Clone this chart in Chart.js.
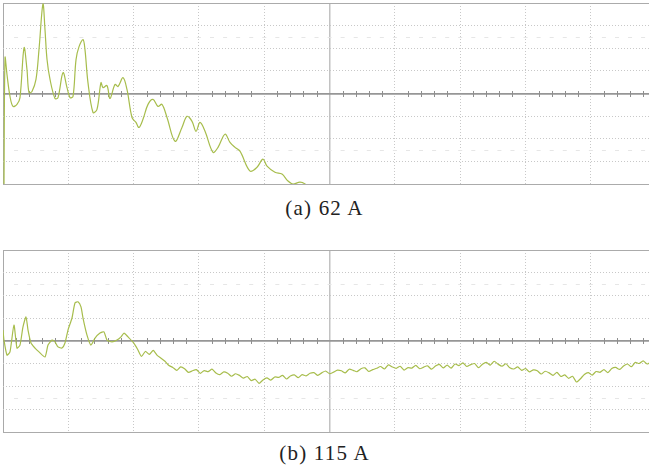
<!DOCTYPE html>
<html>
<head>
<meta charset="utf-8">
<script src="https://cdn.jsdelivr.net/npm/chart.js@4.4.0/dist/chart.umd.min.js"></script>
<style>
  body { margin: 0; background: #fff; width: 649px; height: 472px; position: relative; overflow: hidden; }
  canvas { position: absolute; left: 0; }
  .caption { position: absolute; left: 0; width: 649px; text-align: center; font-family: "Liberation Serif", serif; font-size: 21px; color: #222; letter-spacing: 1.2px; }
</style>
</head>
<body>
<canvas id="chartA" width="649" height="187" style="top:0px"></canvas>
<div class="caption" style="top:196px">(a) 62 A</div>
<canvas id="chartB" width="649" height="188" style="top:247px"></canvas>
<div class="caption" style="top:441px">(b) 115 A</div>

<script>
// graticule: 10 divisions across (the right one is cut off), 8 divisions up
const xGrid = [0, 100, 200, 300, 400, 500, 600, 700, 800, 900];
const yGrid = [-40, -30, -20, -10, 0, 10, 20, 30, 40];
const captions = ['(a) 62 A', '(b) 115 A'];

// trace (a) 62 A
const topX = [1.5, 3.1, 6.1, 10.7, 15.3, 21.4, 26, 32.2, 36.7, 39.8, 44.4, 50.5, 55.1, 61.2, 64.3,
  67.4, 72, 79.6, 84.2, 91.9, 98, 102.6, 107.2, 111.8, 116.4, 122.5, 125.5, 130.1, 137.8, 143.9,
  150, 153.1, 159.2, 163.8, 171.5, 176.1, 183.7, 189.8, 197.5, 203.6, 208.2, 214.3, 222, 229.6, 237.3,
  243.4, 251.1, 263.3, 274, 281.7, 289.4, 295.5, 301.6, 309.3, 321.5, 329.2, 339.9, 347.5, 355.2, 362.8,
  378.2, 388.9, 398, 404.2, 416.4, 427.1, 436.3, 444, 454.7, 462.4, 473];
const topY = [-42, 15.8, 8.4, -1.3, -5.7, -4.8, -1.8, 20.2, 10.6, 0.4, 0.9, 6.2, 19.4, 39.6, 28.2,
  15, 6.2, -2.2, -1.8, 9.2, 2.6, -1.8, -1.3, 15, 20.7, 23.8, 19.4, 4.8, -8.4, -7,
  4.8, 2.6, 3.5, -2.2, 4, 3.1, 7, 1.8, -10.6, -12.8, -15, -11.4, -4.8, -2.6, -5.7,
  -4.8, -10.6, -21.1, -15, -10.1, -12.3, -16.7, -12.8, -16.7, -26, -23.8, -18, -21.6, -23.8, -25.5,
  -34.3, -32.6, -29, -32.1, -34.8, -35.6, -38.7, -40, -39.2, -40, -43];

// trace (b) 115 A
const bottomX = [0, 1.5, 6.1, 10.7, 16.8, 21.4, 26, 30.6, 35.2, 38.3, 42.9, 49, 55.1, 64.3, 68.9,
  75, 79.6, 84.2, 90.3, 94.9, 99.5, 105.6, 110.2, 114.8, 119.4, 122.5, 128.6, 134.7, 140.9, 148.5,
  154.6, 159.2, 166.9, 174.5, 180.7, 185.3, 191.4,
  200, 206, 212, 218, 224, 230, 236, 242, 248, 254, 260, 266, 272, 278, 284, 290, 296,
  302, 308, 314, 320, 326, 332, 338, 344, 350, 356, 362, 368, 374, 380, 386, 392, 398,
  404, 410, 416, 422, 428, 434, 440, 446, 452, 458, 464, 470, 476, 482, 488, 494, 500,
  506, 512, 518, 524, 530, 536, 542, 548, 554, 560, 566, 572, 578, 584, 590, 596, 602,
  608, 614, 620, 626, 632, 638, 644, 650, 656, 662, 668, 674, 680, 686, 692, 698, 704,
  710, 716, 722, 728, 734, 740, 746, 752, 758, 764, 770, 776, 782, 788, 794, 800, 806,
  812, 818, 824, 830, 836, 842, 848, 854, 860, 866, 872, 878, 884, 890, 896, 902, 908,
  914, 920, 926, 932, 938, 944, 950, 956, 962, 968, 974, 980, 986, 992];
const bottomY = [4.8, 0.4, -6.2, -4.8, 7, -3.1, -1.8, 6.2, 10.6, 4.8, -0.9, -3.1, -4.8, -7, -1.8,
  0.4, -0.4, -2.6, -3.1, -0.9, 4.8, 10.1, 16.7, 17.2, 15, 10.1, 2.6, -1.8, 1.3, 3.5,
  4, 0.4, -0.4, 0.4, 1.8, 3.5, 1.8,
  -0.8, -3.6, -6.8, -4.6, -5.9, -4.1, -6.3, -7.6, -8.9, -10.8, -11.6, -12.9, -11.4, -12.2, -13.8, -13.1, -12.6,
  -14.2, -13.0, -13.5, -12.4, -14.1, -14.8, -13.6, -14.2, -15.5, -14.4, -15.1, -16.3, -15.6, -17.4, -16.8, -18.6, -17.1,
  -16.2, -17.2, -15.8, -16.0, -15.1, -16.7, -15.4, -14.9, -16.1, -14.8, -15.3, -14.2, -13.9, -15.1, -14.0, -13.2, -14.4,
  -13.7, -12.8, -13.1, -14.0, -12.4, -12.9, -13.5, -12.2, -11.8, -13.4, -12.6, -12.0, -11.2, -12.3, -10.5, -11.4, -12.0,
  -11.1, -12.8, -11.7, -11.9, -10.7, -12.2, -11.5, -10.9, -12.4, -11.0, -10.3, -11.8, -10.6, -11.9, -10.1, -10.8, -9.6,
  -11.2, -10.4, -9.9, -11.7, -10.2, -9.4, -10.6, -8.9, -10.2, -11.1, -10.0, -11.8, -12.3, -11.4, -12.9, -12.1, -13.6,
  -12.7, -13.1, -14.5, -13.3, -14.0, -15.1, -13.8, -15.6, -14.9, -16.4, -15.5, -18.0, -16.6, -14.7, -13.9, -15.0, -13.4,
  -13.8, -12.6, -13.9, -12.1, -11.6, -12.5, -11.0, -10.1, -11.3, -9.4, -9.9, -8.7, -10.1, -9.3];

const traceColor = '#a7bd4c';

// minor marks on the centre line and the faint rows at +-2.5 div
const graticule = {
  id: 'graticule',
  beforeDatasetsDraw(chart) {
    const { ctx, scales: { x, y } } = chart;
    const y0 = Math.round(y.getPixelForValue(0));
    ctx.save();
    ctx.lineWidth = 1;
    ctx.strokeStyle = '#8e8e8e';
    for (let v = 20; v < x.max; v += 20) {
      if (v % 100 === 0) continue;
      const px = Math.round(x.getPixelForValue(v)) + 0.5;
      ctx.beginPath();
      ctx.moveTo(px, y0 - 3);
      ctx.lineTo(px, y0 + 3);
      ctx.stroke();
    }
    ctx.strokeStyle = '#e6e6e6';
    [25, -25].forEach(lv => {
      const py = Math.round(y.getPixelForValue(lv)) + 0.5;
      for (let v = 20; v < x.max; v += 20) {
        const px = x.getPixelForValue(v);
        ctx.beginPath();
        ctx.moveTo(px - 2, py);
        ctx.lineTo(px + 2, py);
        ctx.stroke();
      }
    });
    ctx.restore();
  }
};

function makeChart(id, xs, ys, label, tension) {
  const points = xs.map((v, i) => ({ x: v, y: ys[i] }));
  return new Chart(document.getElementById(id), {
    type: 'line',
    data: {
      datasets: [{
        label: label,
        data: points,
        borderColor: traceColor,
        borderWidth: 1.2,
        pointRadius: 0,
        tension: tension,
        fill: false,
      }],
    },
    options: {
      responsive: false,
      animation: false,
      layout: { padding: { left: 3, right: 0, top: 3, bottom: 3 } },
      plugins: { legend: { display: false }, tooltip: { enabled: false } },
      scales: {
        x: {
          type: 'linear',
          min: 0,
          max: 989,
          afterBuildTicks: s => { s.ticks = xGrid.map(v => ({ value: v })); },
          ticks: { display: false },
          grid: {
            drawTicks: false,
            color: c => c.tick.value === 0 ? '#a9a9a9' : c.tick.value === 500 ? '#c2c2c2' : '#c8c8c8',
            lineWidth: c => c.tick.value === 500 ? 1.5 : 1,
          },
          border: { display: false, dash: c => (c.tick && c.tick.value % 500 === 0) ? [] : [1, 2] },
        },
        y: {
          type: 'linear',
          min: -40,
          max: 40,
          afterBuildTicks: s => { s.ticks = yGrid.map(v => ({ value: v })); },
          ticks: { display: false },
          grid: {
            drawTicks: false,
            color: c => c.tick.value === 0 ? '#969696' : Math.abs(c.tick.value) === 40 ? '#ababab' : '#c8c8c8',
            lineWidth: c => c.tick.value === 0 ? 1.8 : 1,
          },
          border: { display: false, dash: c => (c.tick && c.tick.value % 40 === 0) ? [] : [1, 2] },
        },
      },
    },
    plugins: [graticule],
  });
}

makeChart('chartA', topX, topY, captions[0], 0.35);
makeChart('chartB', bottomX, bottomY, captions[1], 0.2);
</script>
</body>
</html>
